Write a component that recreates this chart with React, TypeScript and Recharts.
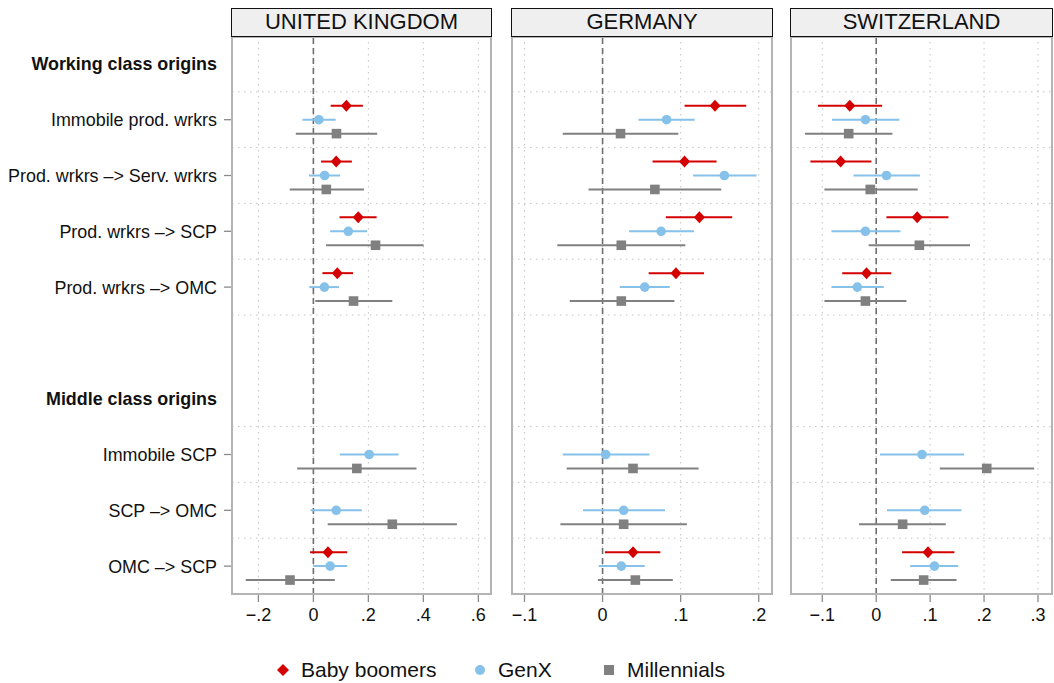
import React from 'react';
import {
  ScatterChart, Scatter, XAxis, YAxis, CartesianGrid, ReferenceLine, ErrorBar,
} from 'recharts';

const categories = [
  'Immobile prod. wrkrs',
  'Prod. wrkrs –> Serv. wrkrs',
  'Prod. wrkrs –> SCP',
  'Prod. wrkrs –> OMC',
  'Immobile SCP',
  'SCP –> OMC',
  'OMC –> SCP',
];
const categoryRows = [2, 3, 4, 5, 8, 9, 10];
const headerLabels = ['Working class origins', 'Middle class origins'];
const headerRows = [1, 7];
const rowBoundaries = [1.5, 2.5, 3.5, 4.5, 5.5, 7.5, 8.5, 9.5];

const cohorts = ['Baby boomers', 'GenX', 'Millennials'];
const cohortColors = ['#d40000', '#85c1e9', '#808080'];
const cohortOffsets = [-0.25, 0, 0.25];

// [estimate, lower, upper] per category
type Est = [number, number, number] | null;

const ukBoomers: Est[] = [[0.12, 0.063, 0.18], [0.083, 0.028, 0.14], [0.163, 0.095, 0.23], [0.087, 0.033, 0.144], null, null, [0.053, -0.012, 0.123]];
const ukGenX: Est[] = [[0.02, -0.04, 0.081], [0.041, -0.016, 0.097], [0.127, 0.061, 0.195], [0.04, -0.015, 0.093], [0.203, 0.096, 0.31], [0.083, -0.01, 0.176], [0.061, 0.0, 0.123]];
const ukMillennials: Est[] = [[0.084, -0.064, 0.232], [0.047, -0.086, 0.184], [0.226, 0.046, 0.401], [0.146, 0.007, 0.287], [0.158, -0.059, 0.375], [0.287, 0.052, 0.522], [-0.085, -0.246, 0.078]];

const deBoomers: Est[] = [[0.144, 0.105, 0.184], [0.105, 0.064, 0.146], [0.124, 0.081, 0.166], [0.094, 0.059, 0.13], null, null, [0.039, 0.003, 0.074]];
const deGenX: Est[] = [[0.082, 0.046, 0.118], [0.156, 0.116, 0.197], [0.075, 0.034, 0.117], [0.054, 0.022, 0.086], [0.004, -0.051, 0.06], [0.027, -0.025, 0.08], [0.024, -0.005, 0.054]];
const deMillennials: Est[] = [[0.023, -0.051, 0.097], [0.067, -0.018, 0.152], [0.024, -0.058, 0.106], [0.024, -0.042, 0.092], [0.039, -0.046, 0.123], [0.027, -0.054, 0.108], [0.042, -0.006, 0.09]];

const chBoomers: Est[] = [[-0.049, -0.108, 0.011], [-0.066, -0.122, -0.009], [0.076, 0.019, 0.134], [-0.018, -0.063, 0.028], null, null, [0.096, 0.048, 0.145]];
const chGenX: Est[] = [[-0.02, -0.082, 0.043], [0.019, -0.042, 0.081], [-0.02, -0.083, 0.045], [-0.035, -0.083, 0.014], [0.085, 0.007, 0.163], [0.09, 0.02, 0.158], [0.108, 0.063, 0.152]];
const chMillennials: Est[] = [[-0.051, -0.132, 0.03], [-0.011, -0.096, 0.077], [0.08, -0.014, 0.174], [-0.02, -0.096, 0.056], [0.205, 0.118, 0.293], [0.049, -0.032, 0.129], [0.088, 0.027, 0.149]];

const ukTicks = [-0.2, 0, 0.2, 0.4, 0.6];
const deTicks = [-0.1, 0, 0.1, 0.2];
const chTicks = [-0.1, 0, 0.1, 0.2, 0.3];

const FONT = '"Liberation Sans", Arial, sans-serif';

const toPoints = (vals: Est[], offset: number) =>
  vals
    .map((v, i) =>
      v ? { x: v[0], y: categoryRows[i] + offset, err: [v[0] - v[1], v[2] - v[0]] } : null)
    .filter(Boolean) as { x: number; y: number; err: number[] }[];

const fmt = (v: number) => {
  if (Math.abs(v) < 1e-9) return '0';
  const s = Math.abs(v).toFixed(1).replace(/^0/, '');
  return v < 0 ? '\u2212' + s : s;
};

const Diamond = (p: any) => (
  <polygon
    points={`${p.cx},${p.cy - 6} ${p.cx + 5.5},${p.cy} ${p.cx},${p.cy + 6} ${p.cx - 5.5},${p.cy}`}
    fill={cohortColors[0]}
  />
);
const Dot = (p: any) => <circle cx={p.cx} cy={p.cy} r={4.8} fill={cohortColors[1]} />;
const Square = (p: any) => (
  <rect x={p.cx - 4.8} y={p.cy - 4.8} width={9.6} height={9.6} fill={cohortColors[2]} />
);
const shapes = [Diamond, Dot, Square];

const RowTick = (props: any) => {
  const { y, payload } = props;
  const row = payload.value;
  const h = headerRows.indexOf(row);
  const c = categoryRows.indexOf(row);
  const label = h >= 0 ? headerLabels[h] : c >= 0 ? categories[c] : '';
  return (
    <g>
      <text x={217} y={y} dy={6.5} textAnchor="end" fontSize={17.9}
        fontWeight={h >= 0 ? 700 : 400} fill="#111" fontFamily={FONT}>
        {label}
      </text>
      {h < 0 && <line x1={224} x2={232} y1={y} y2={y} stroke="#8a8a8a" strokeWidth={1.3} />}
    </g>
  );
};

type PanelProps = {
  title: string;
  series: Est[][];
  ticks: number[];
  domain: [number, number];
  left: number;
  width: number;
  margin: { left: number; right: number };
  labels?: boolean;
};

const Panel = ({ title, series, ticks, domain, left, width, margin, labels }: PanelProps) => {
  const yW = labels ? 232 : 0;
  const plotLeft = left + margin.left + yW;
  const plotRight = left + width - margin.right;
  return (
    <>
      <div style={{ position: 'absolute', left, top: 0 }}>
        <ScatterChart width={width} height={640}
          margin={{ top: 36, right: margin.right, bottom: 6, left: margin.left }}>
          <CartesianGrid horizontal={false} stroke="#c4c4c4" strokeDasharray="1.5 4.5" />
          {rowBoundaries.map((b) => (
            <ReferenceLine key={b} y={b} stroke="#c4c4c4" strokeDasharray="1.5 4.5" />
          ))}
          <XAxis type="number" dataKey="x" domain={domain} allowDataOverflow ticks={ticks}
            interval={0} tickFormatter={fmt} axisLine={false} height={40}
            tickLine={{ stroke: '#8a8a8a', strokeWidth: 1.3 }} tickSize={8} tickMargin={6}
            tick={{ fill: '#111', fontSize: 18, fontFamily: FONT }} />
          <YAxis type="number" dataKey="y" domain={[0.5, 10.5]} reversed allowDataOverflow
            hide={!labels} width={yW} ticks={[1, 2, 3, 4, 5, 7, 8, 9, 10]} interval={0}
            axisLine={false} tickLine={false} tick={<RowTick />} />
          <ReferenceLine x={0} stroke="#6e6e6e" strokeWidth={1.6} strokeDasharray="6 4" />
          {series.map((s, k) => (
            <Scatter key={cohorts[k]} name={cohorts[k]} data={toPoints(s, cohortOffsets[k])}
              shape={shapes[k]} isAnimationActive={false}>
              <ErrorBar dataKey="err" direction="x" width={0} stroke={cohortColors[k]}
                strokeWidth={2} />
            </Scatter>
          ))}
        </ScatterChart>
      </div>
      <div style={{
        position: 'absolute', left: plotLeft - 1, top: 36, width: plotRight - plotLeft + 2,
        height: 559, border: '2px solid #b4b4b4', boxSizing: 'border-box', pointerEvents: 'none',
      }} />
      <div style={{
        position: 'absolute', left: plotLeft - 1, top: 8, width: plotRight - plotLeft + 2,
        height: 29, border: '1.5px solid #111', boxSizing: 'border-box', background: '#efefef',
        textAlign: 'center', fontSize: 22, lineHeight: '26px', color: '#111', fontFamily: FONT,
      }}>
        {title}
      </div>
    </>
  );
};

const legendMarkers = [
  <polygon key="d" points="7,1 13,7 7,13 1,7" fill={cohortColors[0]} />,
  <circle key="c" cx={7} cy={7} r={5} fill={cohortColors[1]} />,
  <rect key="s" x={2} y={2} width={10} height={10} fill={cohortColors[2]} />,
];
const legendX = [276, 473, 602];

export default function App() {
  return (
    <div style={{
      position: 'absolute', left: 0, top: 0, width: 1054, height: 683, background: '#fff',
      fontFamily: FONT, overflow: 'hidden',
    }}>
      <Panel title="UNITED KINGDOM" series={[ukBoomers, ukGenX, ukMillennials]} ticks={ukTicks}
        domain={[-0.296, 0.646]} left={0} width={500} margin={{ left: 0, right: 9 }} labels />
      <Panel title="GERMANY" series={[deBoomers, deGenX, deMillennials]} ticks={deTicks}
        domain={[-0.116, 0.217]} left={500} width={280} margin={{ left: 12, right: 8 }} />
      <Panel title="SWITZERLAND" series={[chBoomers, chGenX, chMillennials]} ticks={chTicks}
        domain={[-0.158, 0.326]} left={780} width={274} margin={{ left: 11, right: 2 }} />
      {cohorts.map((c, k) => (
        <div key={c} style={{
          position: 'absolute', left: legendX[k], top: 656, display: 'flex', alignItems: 'center',
          fontSize: 21, color: '#111', height: 28,
        }}>
          <svg width={14} height={14} style={{ marginRight: 11 }}>{legendMarkers[k]}</svg>
          <span>{c}</span>
        </div>
      ))}
    </div>
  );
}
